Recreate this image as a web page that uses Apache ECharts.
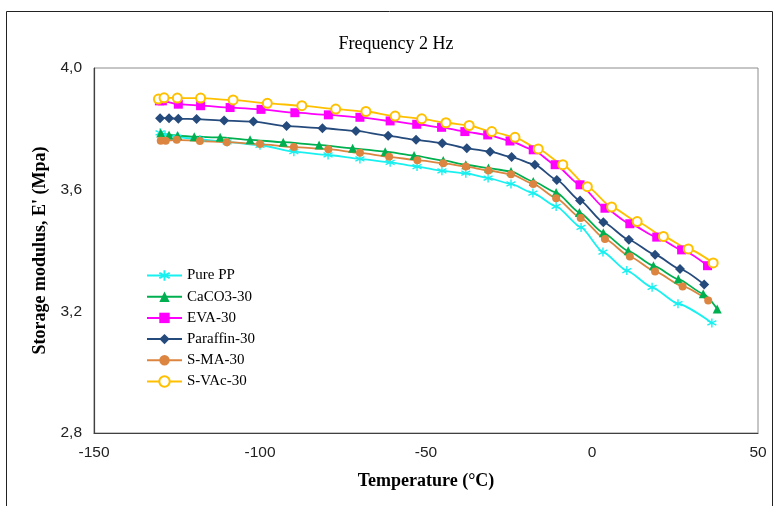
<!DOCTYPE html>
<html>
<head>
<meta charset="utf-8">
<script src="https://cdn.jsdelivr.net/npm/echarts@6/dist/echarts.min.js"></script>
<style>
  html, body { margin: 0; padding: 0; background: #fff; }
  #chart { width: 777px; height: 506px; }
</style>
</head>
<body>
<div id="chart"></div>
<script>
// values, temperature (°C) vs storage modulus
const pureX = [-130.1, -128.6, -125.0, -118.1, -109.9, -100.0, -89.8, -79.5, -69.9, -60.8, -52.7, -45.2, -38.0, -31.3, -24.4, -17.8, -10.8, -3.3, 3.3, 10.5, 18.1, 25.9, 36.1]
const pureY = [3.787, 3.780, 3.773, 3.765, 3.757, 3.746, 3.725, 3.714, 3.701, 3.690, 3.676, 3.662, 3.654, 3.638, 3.619, 3.589, 3.545, 3.476, 3.395, 3.334, 3.279, 3.225, 3.162]

const caco3X = [-129.9, -127.4, -124.8, -119.8, -112.0, -103.0, -93.0, -82.2, -72.1, -62.3, -53.6, -44.8, -38.0, -31.2, -24.4, -17.7, -10.8, -3.8, 3.4, 10.9, 18.5, 26.0, 33.5, 37.7]
const caco3Y = [3.786, 3.780, 3.778, 3.774, 3.772, 3.764, 3.756, 3.747, 3.736, 3.725, 3.712, 3.696, 3.682, 3.671, 3.660, 3.627, 3.591, 3.525, 3.458, 3.399, 3.350, 3.306, 3.258, 3.208]

const evaX = [-130.3, -129.4, -124.6, -117.9, -109.0, -99.7, -89.5, -79.4, -69.9, -60.8, -52.8, -45.3, -38.3, -31.4, -24.7, -17.7, -11.1, -3.6, 3.9, 11.4, 19.5, 27.0, 34.8]
const evaY = [3.892, 3.892, 3.881, 3.876, 3.870, 3.864, 3.853, 3.846, 3.838, 3.826, 3.815, 3.805, 3.791, 3.780, 3.760, 3.731, 3.682, 3.616, 3.539, 3.488, 3.444, 3.402, 3.350]

const paraffinX = [-130.1, -127.4, -124.6, -119.1, -110.8, -102.0, -92.0, -81.2, -71.1, -61.4, -53.0, -45.1, -37.7, -30.7, -24.2, -17.2, -10.6, -3.6, 3.4, 11.1, 19.0, 26.5, 33.8]
const paraffinY = [3.835, 3.835, 3.833, 3.832, 3.827, 3.824, 3.809, 3.802, 3.793, 3.777, 3.764, 3.753, 3.736, 3.725, 3.707, 3.682, 3.632, 3.564, 3.493, 3.435, 3.386, 3.339, 3.288]

const smaX = [-129.9, -128.4, -125.1, -118.1, -110.0, -100.0, -89.8, -79.4, -69.9, -61.1, -52.6, -44.8, -38.0, -31.2, -24.4, -17.7, -10.8, -3.4, 3.9, 11.4, 19.0, 27.3, 35.0]
const smaY = [3.761, 3.761, 3.764, 3.760, 3.756, 3.750, 3.740, 3.733, 3.721, 3.708, 3.697, 3.687, 3.676, 3.663, 3.651, 3.619, 3.572, 3.507, 3.438, 3.380, 3.331, 3.282, 3.236]

const svacX = [-130.6, -128.9, -124.9, -117.9, -108.1, -97.8, -87.4, -77.2, -68.1, -59.3, -51.3, -44.0, -37.0, -30.2, -23.2, -16.2, -8.8, -1.4, 5.9, 13.6, 21.5, 29.0, 36.5]
const svacY = [3.898, 3.902, 3.901, 3.901, 3.895, 3.884, 3.876, 3.865, 3.857, 3.842, 3.833, 3.820, 3.811, 3.791, 3.772, 3.734, 3.682, 3.610, 3.543, 3.495, 3.446, 3.405, 3.359]

const seriesNames = ['Pure PP', 'CaCO3-30', 'EVA-30', 'Paraffin-30', 'S-MA-30', 'S-VAc-30']
const xTicks = [-150, -100, -50, 0, 50]
const yTicks = [2.8, 3.2, 3.6, 4.0]

const zip = (xs, ys) => xs.map((x, i) => [x, ys[i]])

const asterisk = 'path://M5,0L5,10M0.7,2.5L9.3,7.5M0.7,7.5L9.3,2.5'

const styles = [
    { color: '#19F0F0', symbol: asterisk, size: 9, border: 1.4 },
    { color: '#00B050', symbol: 'triangle', size: 9, border: 0 },
    { color: '#FF00FF', symbol: 'rect', size: 9, border: 0 },
    { color: '#254A7C', symbol: 'diamond', size: 10, border: 0 },
    { color: '#DC8541', symbol: 'circle', size: 8, border: 0 },
    { color: '#FFC000', symbol: 'emptyCircle', size: 9, border: 1.5 }
]
const dataSets = [
    zip(pureX, pureY), zip(caco3X, caco3Y), zip(evaX, evaY),
    zip(paraffinX, paraffinY), zip(smaX, smaY), zip(svacX, svacY)
]

const myChart = echarts.init(document.getElementById('chart'))

const series = seriesNames.map((name, i) => ({
    name: name,
    type: 'line',
    data: dataSets[i],
    smooth: 0.2,
    smoothMonotone: 'x',
    symbol: styles[i].symbol,
    symbolSize: styles[i].size,
    showAllSymbol: true,
    lineStyle: { color: styles[i].color, width: 1.8 },
    itemStyle: {
        color: styles[i].color,
        borderColor: styles[i].color,
        borderWidth: styles[i].border
    },
    emphasis: { disabled: true },
    animation: false
}))

myChart.setOption({
    backgroundColor: '#fff',
    animation: false,
    title: {
        text: 'Frequency 2 Hz',
        left: 391,
        top: 30,
        textAlign: 'center',
        textStyle: { fontFamily: 'Liberation Serif', fontSize: 18, fontWeight: 'normal', color: '#000' }
    },
    graphic: [{
        type: 'rect',
        shape: { x: 6.5, y: 11.5, width: 766, height: 520 },
        style: { fill: 'none', stroke: '#222', lineWidth: 1 },
        silent: true
    }],
    legend: {
        orient: 'vertical',
        left: 141,
        top: 263,
        itemWidth: 35,
        itemHeight: 13,
        itemGap: 6.2,
        data: seriesNames,
        textStyle: { fontFamily: 'Liberation Serif', fontSize: 15, color: '#000', lineHeight: 15 }
    },
    grid: {
        left: 94, right: 19, top: 68, bottom: 73,
        show: true, borderColor: '#8c8c8c', borderWidth: 1
    },
    xAxis: {
        type: 'value',
        min: xTicks[0],
        max: xTicks[xTicks.length - 1],
        interval: 50,
        name: 'Temperature (°C)',
        nameLocation: 'middle',
        nameGap: 39,
        nameTextStyle: { fontFamily: 'Liberation Serif', fontSize: 18, fontWeight: 'bold', color: '#000' },
        axisLine: { onZero: false, lineStyle: { color: '#404040', width: 1.2 } },
        axisTick: { show: false },
        splitLine: { show: false },
        axisLabel: { margin: 12, fontFamily: 'Liberation Sans', fontSize: 15.5, color: '#222' }
    },
    yAxis: {
        type: 'value',
        min: yTicks[0],
        max: yTicks[yTicks.length - 1],
        interval: 0.4,
        name: "Storage modulus, E' (Mpa)",
        nameLocation: 'middle',
        nameGap: 44,
        nameTextStyle: { fontFamily: 'Liberation Serif', fontSize: 18, fontWeight: 'bold', color: '#000' },
        axisLine: { show: true, onZero: false, lineStyle: { color: '#404040', width: 1.2 } },
        axisTick: { show: false },
        splitLine: { show: false },
        axisLabel: {
            margin: 12, fontFamily: 'Liberation Sans', fontSize: 15.5, color: '#222',
            formatter: v => v.toFixed(1).replace('.', ',')
        }
    },
    series: series
})
</script>
</body>
</html>
